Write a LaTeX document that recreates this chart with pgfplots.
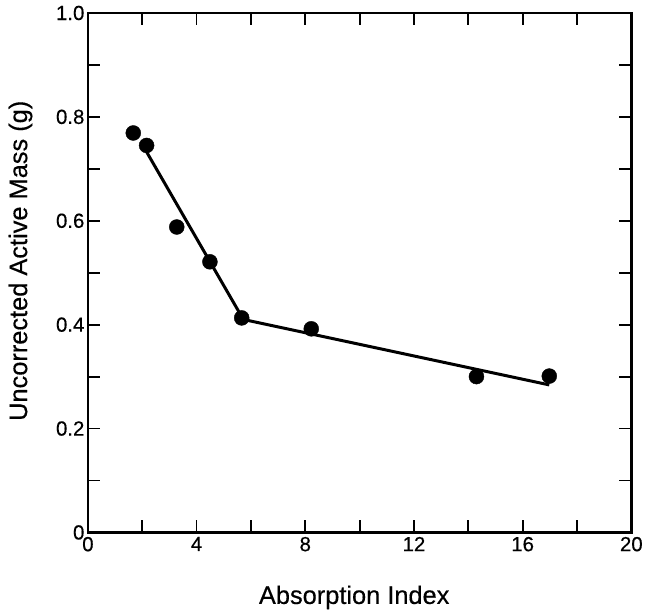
\documentclass[border=0pt]{standalone}
\usepackage{fontspec}
\setmainfont{Liberation Sans}[FakeBold=0.4]
\usepackage{pgfplots}
\pgfplotsset{compat=1.18}
\begin{document}
\begin{tikzpicture}
\begin{axis}[
  scale only axis,
  width=544bp, height=520bp,
  xmin=0, xmax=20, ymin=0, ymax=1.0,
  xtick={0,2,4,6,8,10,12,14,16,18,20},
  xticklabels={0,,4,,8,,12,,16,,20},
  ytick={0,0.1,0.2,0.3,0.4,0.5,0.6,0.7,0.8,0.9,1.0},
  yticklabels={0,,0.2,,0.4,,0.6,,0.8,,1.0},
  tick align=inside,
  major tick length=12bp,
  axis line style={line width=2.6bp},
  every tick/.style={line width=1.8bp, black},
  /pgf/number format/assume math mode=true,
  tick label style={font=\fontsize{20.5}{24}\selectfont},
  xticklabel style={yshift=-1bp},
  yticklabel style={xshift=0bp},
  xlabel={Absorption Index},
  ylabel={Uncorrected Active Mass (g)},
  xlabel style={font=\fontsize{25.5}{30}\selectfont, at={(axis description cs:0.49,-0.125)}, anchor=center},
  ylabel style={font=\fontsize{25.5}{30}\selectfont, at={(axis description cs:-0.124,0.523)}, anchor=center, rotate=0},
  clip=false,
]
\addplot[only marks, mark=*, mark size=7.5bp, black] coordinates {
  (1.67,0.769) (2.16,0.745) (3.27,0.588) (4.49,0.521) (5.66,0.413)
  (8.22,0.392) (14.3,0.300) (16.98,0.301)
};
\addplot[line width=3bp, black] coordinates {
  (2.1,0.738) (5.72,0.410) (16.98,0.284)
};
\end{axis}
\path ([shift={(-88bp,-80bp)}]current axis.south west) rectangle ([shift={(14bp,13bp)}]current axis.north east);
\end{tikzpicture}
\end{document}
